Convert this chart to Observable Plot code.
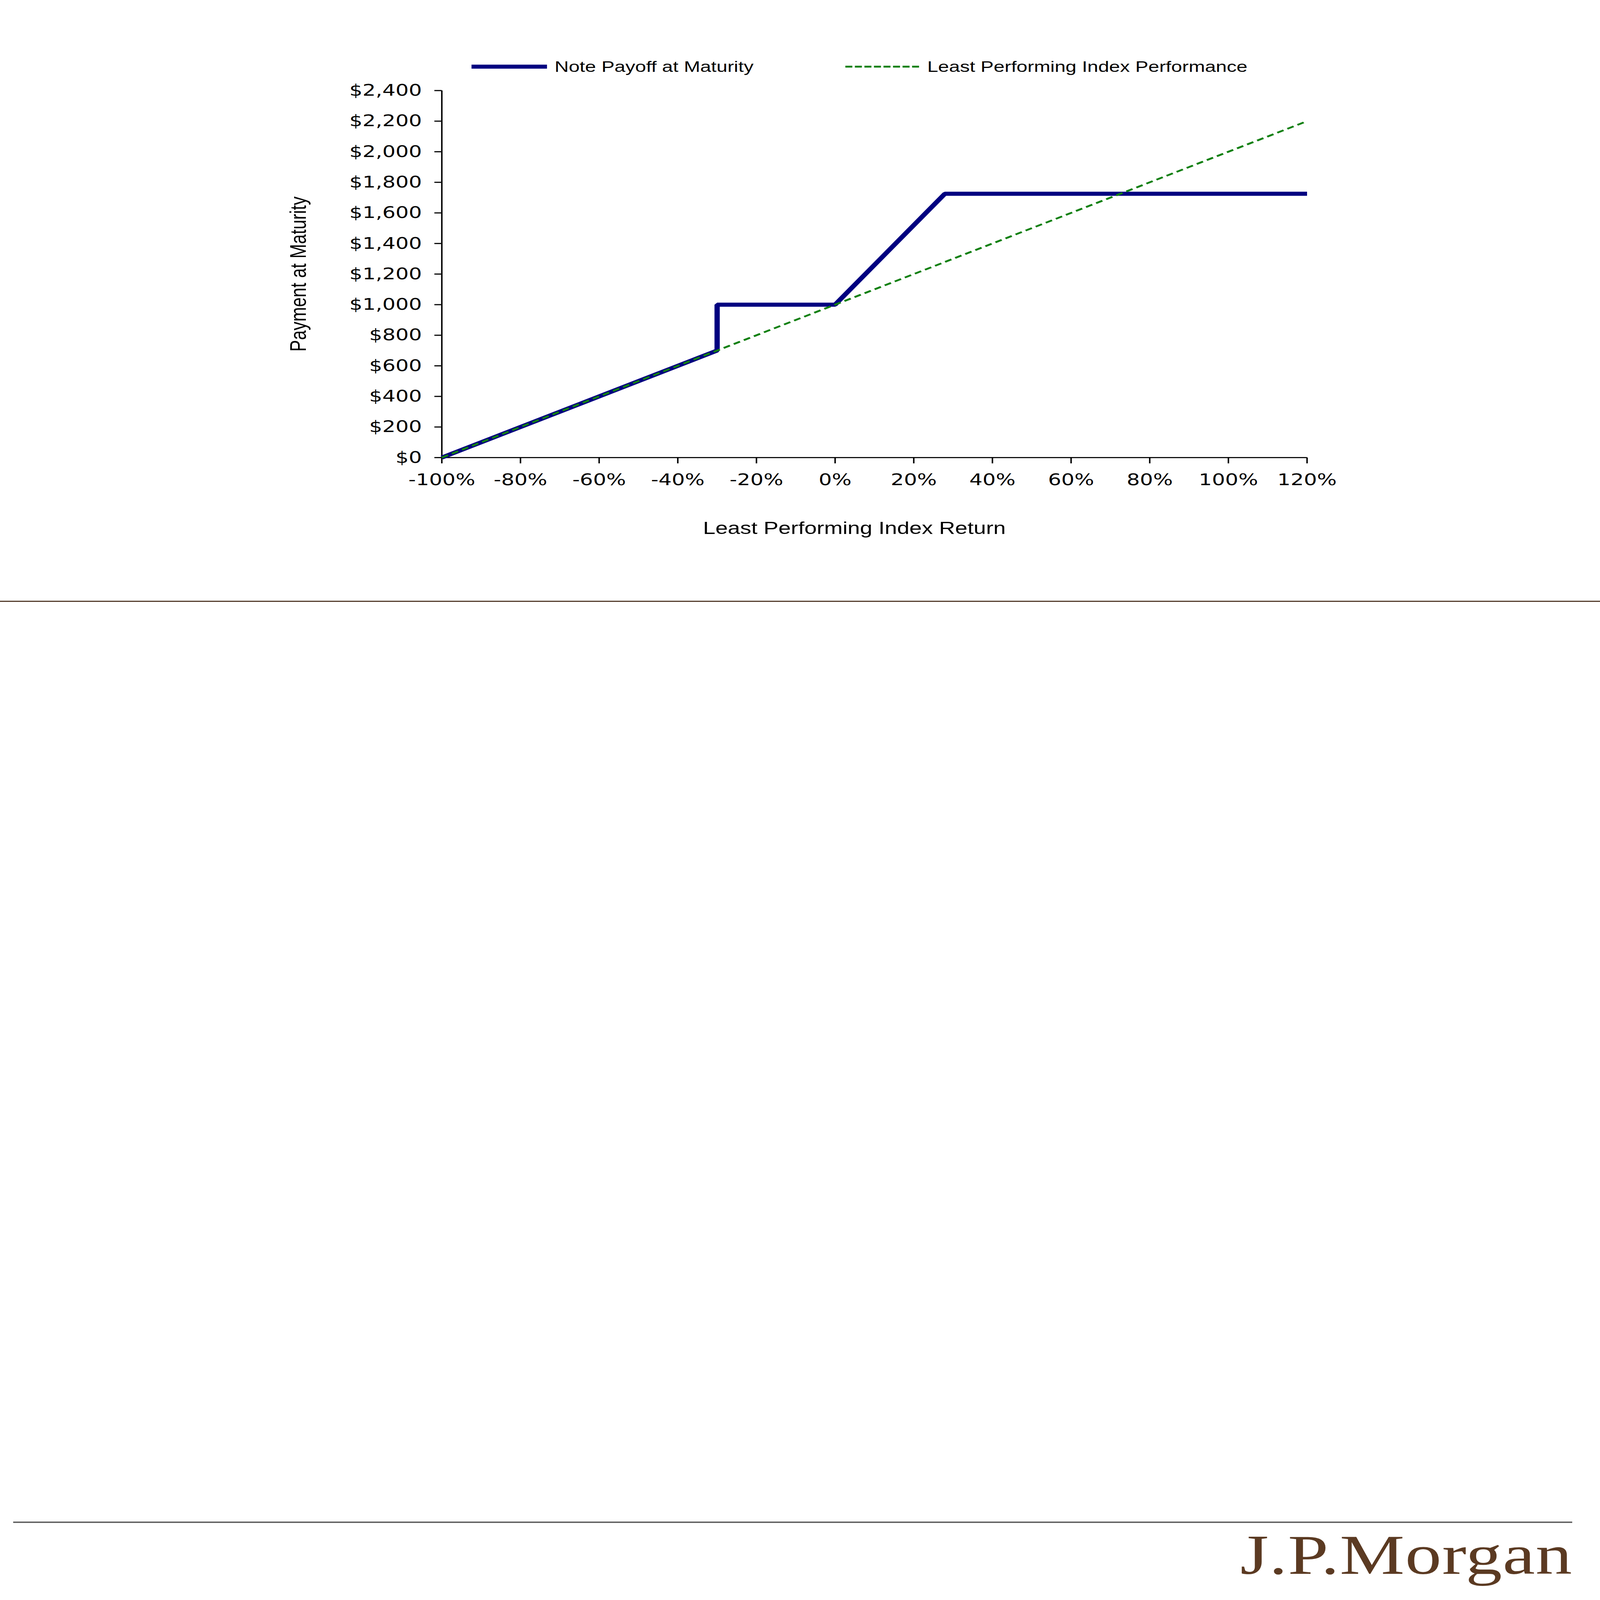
<!DOCTYPE html>
<html>
<head>
<meta charset="utf-8">
<script src="https://cdn.jsdelivr.net/npm/d3@7"></script>
<script src="https://cdn.jsdelivr.net/npm/@observablehq/plot@0.6"></script>
<style>
  html, body { margin: 0; padding: 0; background: #fff; overflow: hidden; }
  #page { position: relative; width: 5470px; height: 7058px; overflow: hidden; background: #fff; transform-origin: 0 0; }
  #page > svg { display: block; }
  .abs { position: absolute; }
</style>
</head>
<body>
<div id="page"></div>
<script>
// ---- data ----
const noteReturn  = [-100, -30, -30, 0, 27.9, 120];   // least performing index return (%)
const notePayoff  = [0, 700, 1000, 1000, 1725, 1725]; // note payoff at maturity ($)
const indexReturn = [-100, 120];                      // %
const indexPerf   = [0, 2200];                        // $
const xTicks = [-100, -80, -60, -40, -20, 0, 20, 40, 60, 80, 100, 120];
const yTicks = [0, 200, 400, 600, 800, 1000, 1200, 1400, 1600, 1800, 2000, 2200, 2400];
const seriesNames = ["Note Payoff at Maturity", "Least Performing Index Performance"];
const xTitle = "Least Performing Index Return";
const yTitle = "Payment at Maturity";
const logoText = "J.P.Morgan";

const BLUE = "#000080", GREEN = "#118011";
const W = 5470, H = 7058;
const pageEl = document.getElementById("page");
const page = d3.select(pageEl);

// The browser window may be smaller than the requested page: fit the page to it.
const sx = Math.min(1, window.innerWidth / W), sy = Math.min(1, window.innerHeight / H);
pageEl.style.transform = `scale(${sx}, ${sy})`;

// ---- legend (above the plot) ----
const leg = page.append("svg").attr("width", W).attr("height", 360);
leg.append("line").attr("x1", 1612).attr("x2", 1870).attr("y1", 294).attr("y2", 294)
  .attr("stroke", BLUE).attr("stroke-width", 18);
leg.append("text").attr("x", 1896).attr("y", 317).text(seriesNames[0])
  .attr("font-family", "Liberation Sans").attr("font-size", 67).attr("fill", "#000");
leg.append("line").attr("x1", 2890).attr("x2", 3142).attr("y1", 294).attr("y2", 294)
  .attr("stroke", GREEN).attr("stroke-width", 8).attr("stroke-dasharray", "24 8.6");
leg.append("text").attr("x", 3170).attr("y", 317).text(seriesNames[1])
  .attr("font-family", "Liberation Sans").attr("font-size", 67).attr("fill", "#000");

// ---- plot ----
const noteRows = noteReturn.map((r, i) => ({r, p: notePayoff[i]}));
const idxRows = indexReturn.map((r, i) => ({r, p: indexPerf[i]}));

const chart = Plot.plot({
  width: W,
  height: 1840,
  marginLeft: 1510,
  marginRight: 1002,
  marginTop: 39,
  marginBottom: 182,
  style: {fontFamily: "DejaVu Sans", fontSize: "71px", color: "#000", background: "transparent", overflow: "visible"},
  x: {domain: [-100, 120]},
  y: {domain: [0, 2400]},
  marks: [
    Plot.axisX({ticks: xTicks, tickFormat: d => `${d}%`, tickSize: 26, tickPadding: 46,
      strokeWidth: 5, label: null, fontSize: 71}),
    Plot.axisY({ticks: yTicks, tickFormat: d => "$" + d3.format(",")(d), tickSize: 25, tickPadding: 43,
      strokeWidth: 5, label: null, fontSize: 71}),
    Plot.axisY({ticks: [], label: yTitle, labelAnchor: "center", labelOffset: 520, labelArrow: "none",
      fontFamily: "Liberation Sans", fontSize: 77}),
    Plot.ruleX([-100], {y1: 0, y2: 2400, stroke: "#000", strokeWidth: 5}),
    Plot.ruleY([0], {x1: -100, x2: 120, stroke: "#000", strokeWidth: 5}),
    Plot.line(noteRows, {x: "r", y: "p", stroke: BLUE, strokeWidth: 18,
      strokeLinejoin: "miter", strokeLinecap: "butt"}),
    Plot.line(idxRows, {x: "r", y: "p", stroke: GREEN, strokeWidth: 8,
      strokeDasharray: "24 14.5", strokeLinecap: "butt"})
  ]
});
pageEl.appendChild(chart);

// ---- x title (below the plot) ----
const xt = page.append("svg").attr("width", W).attr("height", 250);
xt.append("text").attr("x", 2921).attr("y", 156).attr("text-anchor", "middle").text(xTitle)
  .attr("font-family", "Liberation Sans").attr("font-size", 76).attr("fill", "#000");

// ---- page furniture ----
page.append("div").attr("class", "abs")
  .style("left", "0px").style("top", "2650px").style("width", W + "px").style("height", "5px")
  .style("background", "#4e3423");
page.append("div").attr("class", "abs")
  .style("left", "45px").style("top", "6712px").style("width", "5330px").style("height", "6px")
  .style("background", "#595959");
const logo = page.append("svg").attr("class", "abs")
  .style("left", "4200px").style("top", "6740px").attr("width", 1240).attr("height", 285);
logo.append("text").attr("x", 40).attr("y", 203).text(logoText)
  .attr("font-family", "Liberation Serif").attr("font-size", 249).attr("letter-spacing", 2)
  .attr("fill", "#5b3a22");
</script>
</body>
</html>
